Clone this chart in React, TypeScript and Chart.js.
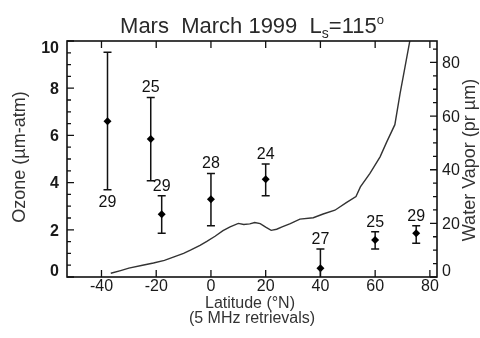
import { useEffect, useRef } from "react";
import { Chart, registerables } from "chart.js";

Chart.register(...registerables);

// ---- data ----
const latitudes = [-37.8, -22, -18, 0, 20, 40, 60, 75];
const ozone = [6.6, 5.85, 2.66, 3.29, 4.14, 0.37, 1.57, 1.85];
const ozoneHigh = [9.52, 7.61, 3.44, 4.39, 4.79, 1.19, 1.92, 2.17];
const ozoneLow = [3.7, 4.08, 1.85, 2.17, 3.44, -0.5, 1.19, 1.43];
const counts = [29, 25, 29, 28, 24, 27, 25, 29];
const countBelow = [true, false, false, false, false, false, false, false];

const vaporLat = [
  -36.6, -33, -30, -25, -21, -17, -13.5, -10, -7.5, -4, -1.5, 1.5, 4.4, 7, 10,
  12, 14.2, 16, 18, 20, 22, 24, 26, 29, 32.5, 37.4, 41, 45.3, 49.6, 53, 54.6,
  58.1, 61.8, 64.2, 67.2, 69.1, 70.9, 72.7, 73.3,
];
const vaporValue = [
  1.4, 2.4, 3.3, 4.4, 5.2, 6.2, 7.5, 8.8, 10, 11.8, 13.3, 15.2, 17.3, 18.7, 20,
  19.6, 19.8, 20.3, 19.9, 18.6, 17.4, 17.8, 18.7, 19.9, 21.6, 22.1, 23.5, 24.9,
  27.8, 30, 33.6, 38.6, 44.8, 50.3, 56.8, 68.4, 78.3, 88.2, 92,
];

const xTicks = [-40, -20, 0, 20, 40, 60, 80];
const ozoneTicks = [0, 2, 4, 6, 8, 10];
const vaporTicks = [0, 20, 40, 60, 80];

const X_MIN = -52.6;
const X_MAX = 82.6;
const OZ_MIN = 0;
const OZ_MAX = 10;
const WV_MIN = 0;
const WV_MAX = 88;

const FONT = '"Liberation Sans", Arial, Helvetica, sans-serif';

function range(a: number, b: number, step: number) {
  const out: number[] = [];
  for (let v = a; v <= b + 1e-9; v += step) out.push(Math.round(v * 1000) / 1000);
  return out;
}

const decorPlugin = {
  id: "decor",
  beforeDatasetsDraw(chart: any) {
    const { ctx, chartArea: a, scales } = chart;
    const xs = scales.x;
    const ys = scales.y;
    ctx.save();
    ctx.beginPath();
    ctx.rect(a.left, a.top, a.right - a.left, a.bottom - a.top);
    ctx.clip();
    ctx.strokeStyle = "#111";
    ctx.lineWidth = 1.5;
    latitudes.forEach((lat, i) => {
      const px = xs.getPixelForValue(lat);
      const hi = ys.getPixelForValue(ozoneHigh[i]);
      const lo = ys.getPixelForValue(ozoneLow[i]);
      ctx.beginPath();
      ctx.moveTo(px, hi);
      ctx.lineTo(px, lo);
      ctx.moveTo(px - 4, hi);
      ctx.lineTo(px + 4, hi);
      ctx.moveTo(px - 4, lo);
      ctx.lineTo(px + 4, lo);
      ctx.stroke();
    });
    ctx.restore();
  },
  afterDraw(chart: any) {
    const { ctx, chartArea: a, scales } = chart;
    const xs = scales.x;
    const ys = scales.y;
    const y2 = scales.y2;
    ctx.save();

    // frame
    ctx.strokeStyle = "#111";
    ctx.lineWidth = 1.6;
    ctx.strokeRect(a.left, a.top, a.right - a.left, a.bottom - a.top);

    // ticks
    ctx.lineWidth = 1.3;
    ctx.beginPath();
    xTicks.forEach((v) => {
      const px = xs.getPixelForValue(v);
      ctx.moveTo(px, a.bottom);
      ctx.lineTo(px, a.bottom - 7);
      ctx.moveTo(px, a.top);
      ctx.lineTo(px, a.top + 7);
    });
    range(OZ_MIN, OZ_MAX, 0.5).forEach((v) => {
      const py = ys.getPixelForValue(v);
      const major = Math.abs(v % 2) < 1e-6;
      ctx.moveTo(a.left, py);
      ctx.lineTo(a.left + (major ? 7 : 4), py);
    });
    range(WV_MIN, 85, 5).forEach((v) => {
      const py = y2.getPixelForValue(v);
      const major = Math.abs(v % 20) < 1e-6;
      ctx.moveTo(a.right, py);
      ctx.lineTo(a.right - (major ? 7 : 4), py);
    });
    ctx.stroke();

    // tick labels
    ctx.fillStyle = "#1a1a1a";
    ctx.textBaseline = "alphabetic";
    const capHalf = 0.716 * 16 / 2;
    ctx.font = `bold 16px ${FONT}`;
    ctx.textAlign = "right";
    ozoneTicks.forEach((v) => {
      let cy = ys.getPixelForValue(v);
      cy = Math.max(a.top + 6, Math.min(a.bottom - 7, cy));
      ctx.fillText(String(v), a.left - 8, cy + capHalf);
    });
    ctx.font = `16px ${FONT}`;
    ctx.textAlign = "left";
    vaporTicks.forEach((v) => {
      let cy = y2.getPixelForValue(v);
      cy = Math.max(a.top + 6, Math.min(a.bottom - 7, cy));
      ctx.fillText(String(v), a.right + 5, cy + capHalf);
    });
    ctx.textAlign = "center";
    xTicks.forEach((v) => {
      const px = xs.getPixelForValue(v);
      ctx.fillText(String(v), px, a.bottom + 14);
    });

    // count labels
    ctx.fillStyle = "#111";
    latitudes.forEach((lat, i) => {
      const px = xs.getPixelForValue(lat);
      if (countBelow[i]) {
        const lo = ys.getPixelForValue(ozoneLow[i]);
        ctx.fillText(String(counts[i]), px, lo + 17);
      } else {
        const hi = ys.getPixelForValue(ozoneHigh[i]);
        ctx.fillText(String(counts[i]), px, hi - 5);
      }
    });

    // axis titles
    ctx.fillStyle = "#333";
    const cx = (a.left + a.right) / 2 - 2;
    ctx.font = `16px ${FONT}`;
    ctx.fillText("Latitude (\u00B0N)", cx, a.bottom + 31);
    ctx.fillText("(5 MHz retrievals)", cx + 2, a.bottom + 46);

    ctx.font = `18px ${FONT}`;
    ctx.textBaseline = "middle";
    ctx.save();
    ctx.translate(20, (a.top + a.bottom) / 2 - 2);
    ctx.rotate(-Math.PI / 2);
    ctx.fillText("Ozone (\u00B5m-atm)", 0, 0);
    ctx.restore();
    ctx.save();
    ctx.translate(470, (a.top + a.bottom) / 2 + 1);
    ctx.rotate(-Math.PI / 2);
    ctx.fillText("Water Vapor (pr \u00B5m)", 0, 0);
    ctx.restore();

    // title with subscript / superscript
    ctx.textBaseline = "alphabetic";
    ctx.textAlign = "left";
    ctx.fillStyle = "#2a2a2a";
    const parts = [
      { t: "Mars  March 1999  L", size: 22, dy: 0 },
      { t: "s", size: 14, dy: 5 },
      { t: "=115", size: 22, dy: 0 },
      { t: "o", size: 13, dy: -9 },
    ];
    let total = 0;
    parts.forEach((p) => {
      ctx.font = `${p.size}px ${FONT}`;
      total += ctx.measureText(p.t).width;
    });
    let tx = (a.left + a.right) / 2 - total / 2;
    parts.forEach((p) => {
      ctx.font = `${p.size}px ${FONT}`;
      ctx.fillText(p.t, tx, 33 + p.dy);
      tx += ctx.measureText(p.t).width;
    });

    ctx.restore();
  },
};

export default function App() {
  const ref = useRef<HTMLCanvasElement | null>(null);

  useEffect(() => {
    document.body.style.margin = "0";
    const canvas = ref.current;
    if (!canvas) return;
    const chart = new Chart(canvas, {
      type: "line",
      data: {
        datasets: [
          {
            label: "Water vapor",
            data: vaporLat.map((x, i) => ({ x, y: vaporValue[i] })),
            yAxisID: "y2",
            borderColor: "#333",
            borderWidth: 1.4,
            pointRadius: 0,
            tension: 0,
            fill: false,
          },
          {
            label: "Ozone",
            data: latitudes.map((x, i) => ({ x, y: ozone[i] })),
            yAxisID: "y",
            showLine: false,
            pointStyle: "rectRot",
            pointRadius: 4,
            pointBackgroundColor: "#000",
            pointBorderWidth: 0,
            borderColor: "#000",
          } as any,
        ],
      },
      options: {
        responsive: false,
        animation: false,
        layout: { padding: { left: 67, top: 41, right: 43, bottom: 61 } },
        plugins: {
          legend: { display: false },
          tooltip: { enabled: false },
          title: { display: false },
        },
        scales: {
          x: { type: "linear", min: X_MIN, max: X_MAX, display: false },
          y: { type: "linear", min: OZ_MIN, max: OZ_MAX, display: false },
          y2: { type: "linear", min: WV_MIN, max: WV_MAX, display: false, position: "right" },
        },
      },
      plugins: [decorPlugin],
    });
    return () => chart.destroy();
  }, []);

  return <canvas ref={ref} width={480} height={338} style={{ display: "block" }} />;
}
